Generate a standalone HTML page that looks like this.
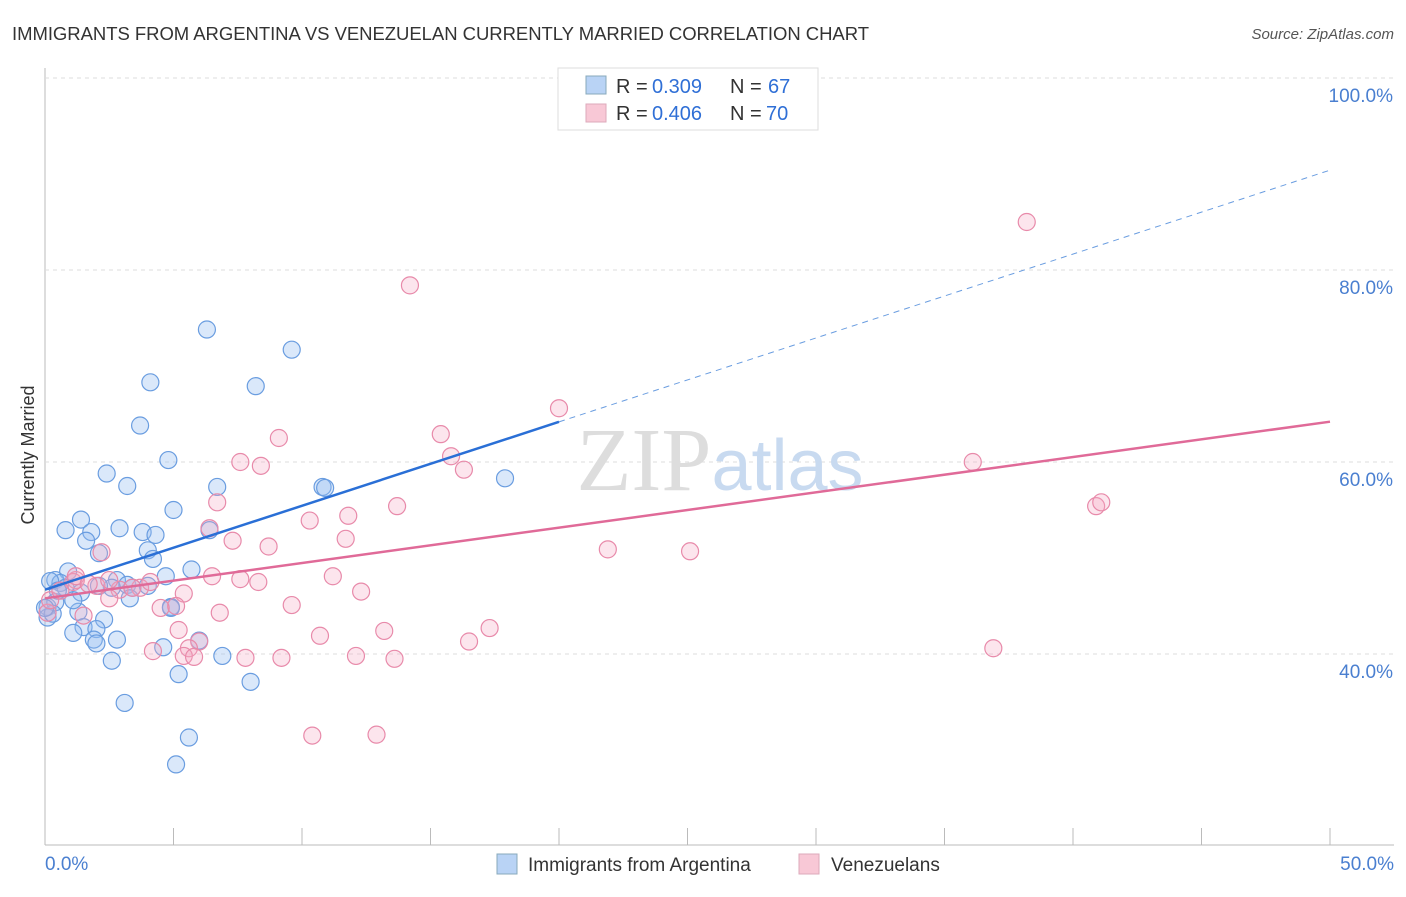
<!DOCTYPE html>
<html><head><meta charset="utf-8"><style>
body{margin:0;background:#fff;font-family:"Liberation Sans",sans-serif}
</style></head><body>
<svg width="1406" height="892" xmlns="http://www.w3.org/2000/svg">
<text x="12" y="40" font-size="18.5" fill="#333" textLength="857">IMMIGRANTS FROM ARGENTINA VS VENEZUELAN CURRENTLY MARRIED CORRELATION CHART</text>
<text x="1394" y="39" font-size="15" fill="#555" font-style="italic" text-anchor="end">Source: ZipAtlas.com</text>
<g id="grid"></g>
<text x="720" y="490" font-size="90" fill="#ddd" text-anchor="middle" font-family="Liberation Serif">ZIP<tspan fill="#c8daf0" font-family="Liberation Sans" font-size="72">atlas</tspan></text>
<g id="marks"></g>
<text x="34" y="455" font-size="18" fill="#333" transform="rotate(-90 34 455)" text-anchor="middle">Currently Married</text>
<text x="45" y="870" font-size="19" fill="#4a7fd0">0.0%</text>
<text x="1394" y="870" font-size="19" fill="#4a7fd0" text-anchor="end">50.0%</text>
<g>
<rect x="558" y="68" width="260" height="62" fill="#fff" stroke="#ddd"/>
<rect x="586" y="76" width="20" height="18" fill="#b9d3f5" stroke="#8ab"/>
<text x="616" y="93" font-size="20" fill="#333">R = </text><text x="652" y="93" font-size="20" fill="#2f6fd6">0.309</text>
<text x="730" y="93" font-size="20" fill="#333">N = </text><text x="768" y="93" font-size="20" fill="#2f6fd6">67</text>
<rect x="586" y="104" width="20" height="18" fill="#f8c8d6" stroke="#dab"/>
<text x="616" y="120" font-size="20" fill="#333">R = </text><text x="652" y="120" font-size="20" fill="#2f6fd6">0.406</text>
<text x="730" y="120" font-size="20" fill="#333">N = </text><text x="766" y="120" font-size="20" fill="#2f6fd6">70</text>
</g>
<g>
<rect x="497" y="854" width="20" height="20" fill="#b9d3f5" stroke="#8ab"/>
<text x="528" y="871" font-size="19" fill="#333">Immigrants from Argentina</text>
<rect x="799" y="854" width="20" height="20" fill="#f8c8d6" stroke="#dab"/>
<text x="831" y="871" font-size="19" fill="#333">Venezuelans</text>
</g>
</svg>
<script>
const yTicks=[40,60,80,100];
const blueX=[6.3,9.6,4.1,8.2,3.7,4.8,2.4,3.2,6.7,10.8,10.9,17.9,5.0,1.4,0.8,1.8,2.9,3.8,4.3,6.4,1.6,2.1,4.0,4.2,5.7,4.7,0.9,0.4,0.6,0.2,0.8,1.4,2.8,3.2,3.4,2.6,4.0,3.3,2.1,0.1,0.4,1.3,2.3,1.5,2.0,1.1,4.9,4.9,1.9,2.0,2.8,6.0,4.6,6.9,2.6,5.2,8.0,3.1,5.6,5.1,0.1,0.3,1.1,0.5,0.0];
const blueY=[73.8,71.7,68.3,67.9,63.8,60.2,58.8,57.5,57.4,57.4,57.3,58.3,55.0,54.0,52.9,52.7,53.1,52.7,52.4,52.9,51.8,50.5,50.8,49.9,48.8,48.1,48.6,47.7,47.4,47.6,46.9,46.4,47.7,47.2,46.9,46.9,47.1,45.8,47.1,44.9,45.4,44.4,43.6,42.8,42.6,42.2,44.9,44.8,41.5,41.1,41.5,41.4,40.7,39.8,39.3,37.9,37.1,34.9,31.3,28.5,43.8,44.2,45.6,46.6,44.8];
const pinkX=[38.2,14.2,20.0,9.1,15.4,15.8,16.3,7.6,8.4,36.1,40.9,41.1,6.7,13.7,10.3,11.8,6.4,7.3,8.7,11.7,21.9,25.1,2.2,1.2,1.1,6.5,7.6,8.3,11.2,12.3,9.6,2.0,2.9,2.5,3.7,4.1,3.4,5.4,5.1,4.5,6.8,1.5,17.3,13.2,5.2,10.7,6.0,5.6,5.4,5.8,16.5,36.9,4.2,7.8,9.2,12.1,13.6,10.4,12.9,0.1,0.2,0.6,1.2,1.7,2.5];
const pinkY=[85.0,78.4,65.6,62.5,62.9,60.6,59.2,60.0,59.6,60.0,55.4,55.8,55.8,55.4,53.9,54.4,53.1,51.8,51.2,52.0,50.9,50.7,50.6,47.7,47.5,48.1,47.8,47.5,48.1,46.5,45.1,47.1,46.7,45.8,46.9,47.5,46.9,46.3,45.0,44.8,44.3,44.0,42.7,42.4,42.5,41.9,41.3,40.6,39.8,39.7,41.3,40.6,40.3,39.6,39.6,39.8,39.5,31.5,31.6,44.3,45.6,46.6,48.1,47.3,47.7];
const blueLine=[46.7,90.4], pinkLine=[45.8,64.2];
const NS='http://www.w3.org/2000/svg';
const X=v=>45+v*25.7, Y=v=>654-(v-40)*9.6;
const grid=document.getElementById('grid'), marks=document.getElementById('marks');
function mk(tag,at,parent){const e=document.createElementNS(NS,tag);for(const k in at)e.setAttribute(k,at[k]);parent.appendChild(e);return e;}
mk('line',{x1:45,y1:68,x2:45,y2:845,stroke:'#bbb'},grid);
mk('line',{x1:45,y1:845,x2:1394,y2:845,stroke:'#bbb'},grid);
for(let i=0;i<=10;i++){const l=mk('line',{x1:X(i*5),x2:X(i*5),y1:828,y2:845,stroke:'#bbb'},grid);}
yTicks.forEach(t=>{const l=mk('line',{x1:45,x2:1394,y1:Y(t),y2:Y(t),stroke:'#ddd','stroke-dasharray':'4,4'},grid);
const tx=mk('text',{x:1393,y:Y(t)+24,'font-size':19,fill:'#4a7fd0','text-anchor':'end'},grid);tx.textContent=t.toFixed(1)+'%';});
blueX.forEach((v,i)=>{const c=mk('circle',{cx:X(v),cy:Y(blueY[i]),r:8.5,fill:'rgba(150,190,240,0.35)',stroke:'#6a9de0','stroke-width':1.2},marks);});
pinkX.forEach((v,i)=>{const c=mk('circle',{cx:X(v),cy:Y(pinkY[i]),r:8.5,fill:'rgba(245,170,195,0.3)',stroke:'#e88aaa','stroke-width':1.2},marks);});
const bAt=x=>blueLine[0]+(blueLine[1]-blueLine[0])*x/50;
let l=mk('line',{x1:X(0),y1:Y(bAt(0)),x2:X(20),y2:Y(bAt(20)),stroke:'#2a6fd6','stroke-width':2.5},marks);
l=mk('line',{x1:X(20),y1:Y(bAt(20)),x2:X(50),y2:Y(bAt(50)),stroke:'#6a9de0','stroke-width':1,'stroke-dasharray':'6,5'},marks);
l=mk('line',{x1:X(0),y1:Y(pinkLine[0]),x2:X(50),y2:Y(pinkLine[1]),stroke:'#e06a98','stroke-width':2.5},marks);
</script>
</body></html>
